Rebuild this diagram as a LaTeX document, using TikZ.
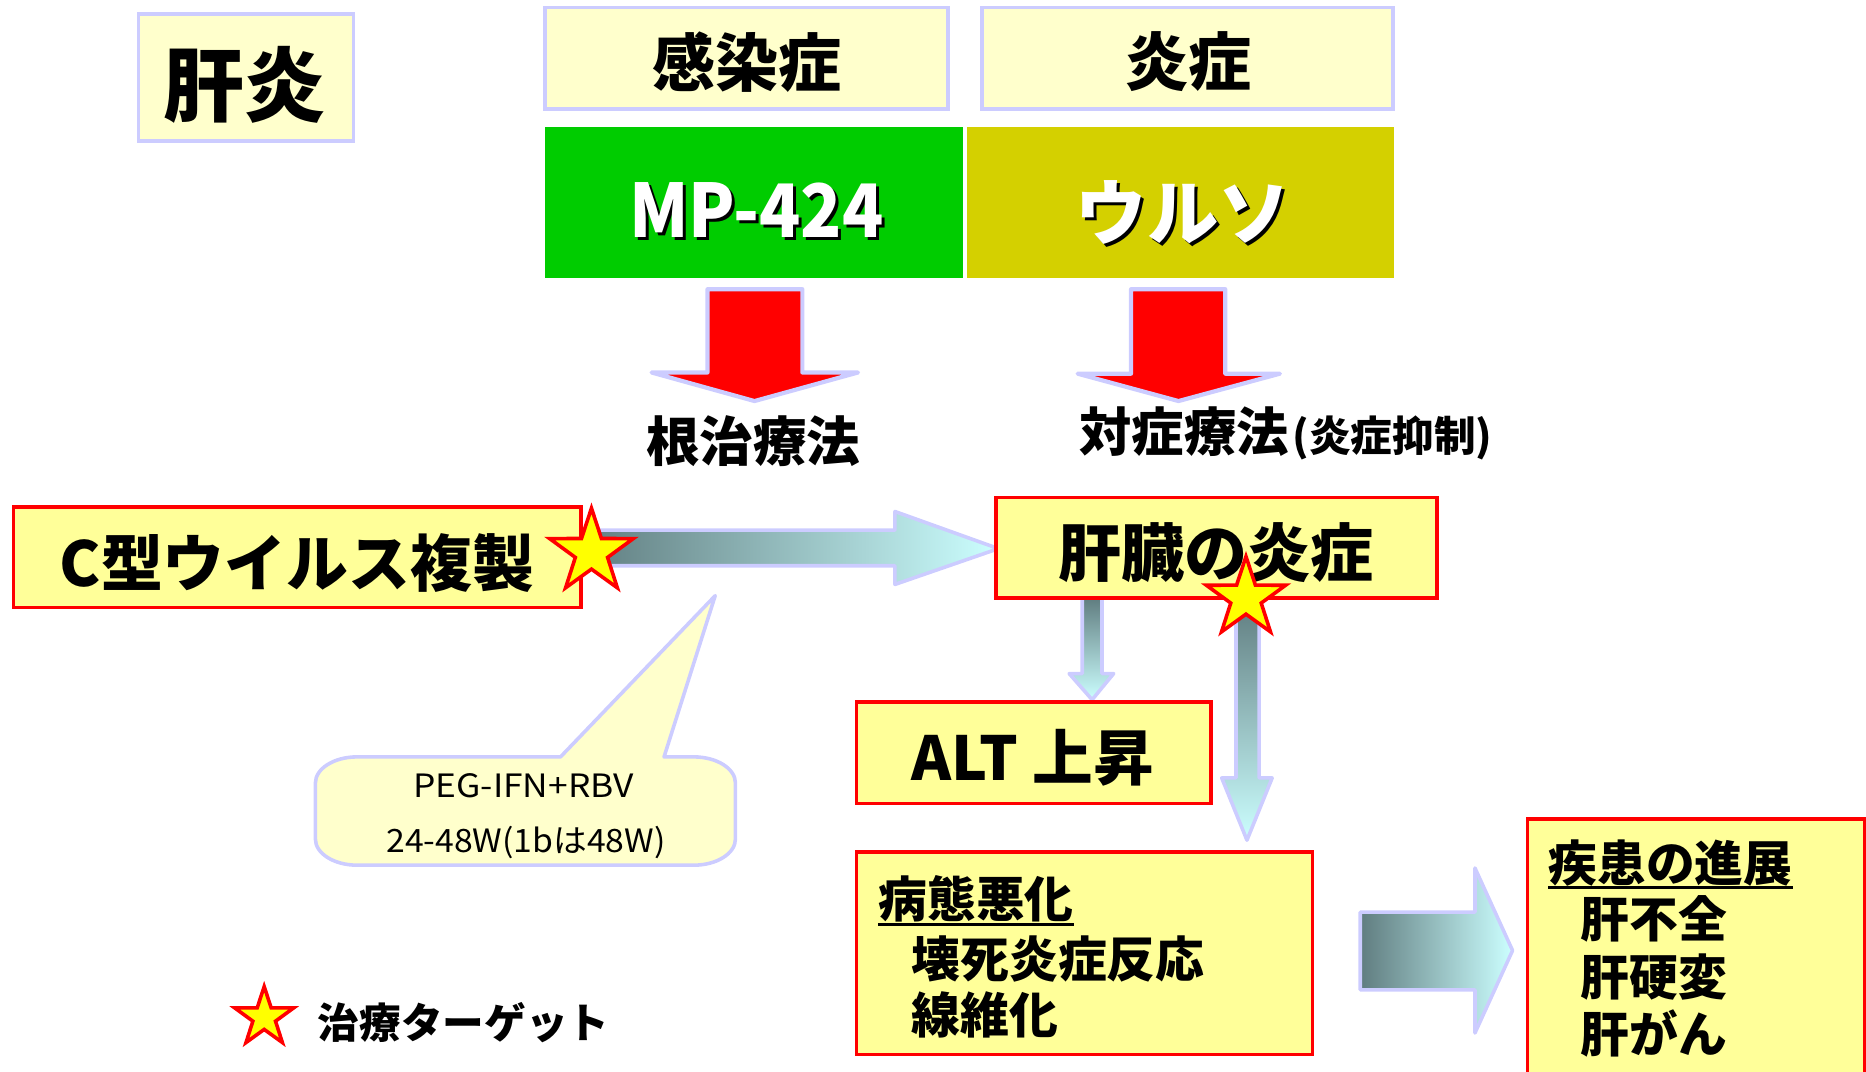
\documentclass[tikz,border=0pt]{standalone}
\usepackage{fontspec}
\setmainfont{Noto Sans CJK JP}
\usetikzlibrary{shapes.geometric,calc}
\definecolor{lav}{RGB}{204,204,255}
\definecolor{paleY}{RGB}{255,255,204}
\definecolor{boxY}{RGB}{255,255,153}
\definecolor{grn}{RGB}{0,204,0}
\definecolor{olv}{RGB}{212,208,0}
\definecolor{dk}{RGB}{96,125,128}
\definecolor{lt}{RGB}{204,255,255}
\definecolor{redc}{RGB}{255,0,0}
\definecolor{staryel}{RGB}{255,255,0}
\newcommand\fsz[1]{\fontsize{#1pt}{#1pt}\selectfont}
\begin{document}
\begin{tikzpicture}[x=1pt,y=-1pt,
 lavbox/.style={draw=lav,fill=paleY,line width=3pt,inner sep=0pt},
 redbox/.style={draw=redc,fill=boxY,line width=3pt,inner sep=0pt},
 txt/.style={inner sep=0pt,text=black},
 mystar/.style={star,star points=5,star point ratio=2.6,fill=staryel,draw=redc,line width=3pt,inner sep=0pt},
 redarrow/.style={fill=redc,draw=lav,line width=3.5pt,line join=round},
 gradH/.style={left color=dk,right color=lt,draw=lav,line width=3pt,line join=round},
 gradV/.style={top color=dk,bottom color=lt,draw=lav,line width=3pt,line join=round},
]
\useasboundingbox (0,0) rectangle (1568,900);
\clip (0,0) rectangle (1568,900);

% top boxes
\node[lavbox,minimum width=180.7pt,minimum height=106.9pt] (kanen) at (206.65,65.25) {};
\node[lavbox,minimum width=338.7pt,minimum height=85.5pt] (kansen) at (627.35,48.95) {};
\node[lavbox,minimum width=345.3pt,minimum height=85.5pt] (ensho) at (997.85,48.95) {};
\node[fill=grn,inner sep=0pt,minimum width=351.6pt,minimum height=127pt] (mp) at (633.8,170.5) {};
\node[fill=olv,inner sep=0pt,minimum width=359.3pt,minimum height=127pt] (urso) at (991.85,170.5) {};

\node[txt,font={\bfseries\fsz{68}},anchor=base] (kanenT) at (205.4,97) {肝炎};
\node[txt,font={\bfseries\fsz{53}},anchor=base] (kansenT) at (627.4,72.7) {感染症};
\node[txt,font={\bfseries\fsz{53}},anchor=base] (enshoT) at (998.9,72) {炎症};
\node[txt,text=black,font={\bfseries\fsz{62}},anchor=base] (mpS) at (638,202) {\scalebox{0.92}[1]{MP-424}};
\node[txt,text=white,font={\bfseries\fsz{62}},anchor=base] (mpT) at (635.5,199.5) {\scalebox{0.92}[1]{MP-424}};
\node[txt,text=black,font={\bfseries\fsz{60}},anchor=base] (ursoS) at (996.5,203.5) {ウルソ};
\node[txt,text=white,font={\bfseries\fsz{60}},anchor=base] (ursoT) at (994,201) {ウルソ};

% red arrows
\draw[redarrow] (594.5,243) -- (674.2,243) -- (674.2,313) -- (721,313) -- (634,337) -- (547.5,313) -- (594.5,313) -- cycle;
\draw[redarrow] (950.4,243) -- (1029.6,243) -- (1029.6,314) -- (1075.5,314) -- (990.3,337) -- (905.5,314) -- (950.4,314) -- cycle;
\node[txt,font={\bfseries\fsz{45}},anchor=base] (konji) at (633,388) {根治療法};
\node[txt,font={\bfseries\fsz{44}},anchor=base west] (taisho) at (907,379.7) {対症療法\fsz{35}\hspace{3pt}(炎症抑制)};

% callout
\draw[draw=lav,fill=paleY,line width=3pt,line join=round] (300,636) -- (471,636) -- (601,500.5) -- (558,636) -- (583,636)
  arc[start angle=270,end angle=360,x radius=35,y radius=22] -- (618,705)
  arc[start angle=0,end angle=90,x radius=35,y radius=22] -- (300,727)
  arc[start angle=90,end angle=180,x radius=35,y radius=22] -- (265,658)
  arc[start angle=180,end angle=270,x radius=35,y radius=22] -- cycle;
\node[txt,font={\fsz{27}},anchor=base] (peg) at (440,670.4) {\scalebox{1.1}[1]{PEG-IFN+RBV}};
\node[txt,font={\fsz{27}},anchor=base] (weeks) at (442,716) {\scalebox{1.05}[1]{24-48W(1bは48W)}};

% gradient arrows
\shadedraw[gradH] (488,445.5) -- (752,445.5) -- (752,429.8) -- (839,461) -- (752,491.1) -- (752,475.4) -- (488,475.4) -- cycle;
\shadedraw[gradV] (909.4,502.4) -- (926,502.4) -- (926,566) -- (935.8,566) -- (917.7,588) -- (898.4,566) -- (909.4,566) -- cycle;
\shadedraw[gradV] (1038.6,505) -- (1058,505) -- (1058,653.7) -- (1069,653.7) -- (1047.8,706) -- (1026.6,653.7) -- (1038.6,653.7) -- cycle;
\shadedraw[gradH] (1143,766.5) -- (1239.4,766.5) -- (1239.4,729.4) -- (1271,798.7) -- (1239.4,868) -- (1239.4,831.8) -- (1143,831.8) -- cycle;

% red boxes
\node[redbox,minimum width=476.5pt,minimum height=84.5pt] (virus) at (249.75,468.25) {};
\node[redbox,minimum width=370.7pt,minimum height=84.4pt] (liver) at (1022.15,460.2) {};
\node[redbox,minimum width=298.2pt,minimum height=85pt] (alt) at (868.7,632.5) {};
\node[redbox,minimum width=383.4pt,minimum height=170pt] (byotai) at (911.3,801) {};
\node[redbox,minimum width=283.2pt,minimum height=271.6pt] (shikkan) at (1425,824.2) {};

\node[txt,font={\bfseries\fsz{52}},anchor=base] (virusT) at (249.6,493) {C型ウイルス複製};
\node[txt,font={\bfseries\fsz{53}},anchor=base] (liverT) at (1022,484.3) {肝臓の炎症};
\node[txt,font={\bfseries\fsz{51}},anchor=base] (altT) at (868,655.5) {ALT 上昇};
\node[txt,font={\bfseries\fsz{41}},anchor=base west] (b1) at (738,770.6) {病態悪化};
\node[txt,font={\bfseries\fsz{41}},anchor=base west] (b2) at (766,821) {壊死炎症反応};
\node[txt,font={\bfseries\fsz{41}},anchor=base west] (b3) at (766,868.3) {線維化};
\draw[line width=2.5pt] ($(b1.base west)+(0,6)$) -- ($(b1.base east)+(0,6)$);
\node[txt,font={\bfseries\fsz{41}},anchor=base west] (s1) at (1301,740.6) {疾患の進展};
\node[txt,font={\bfseries\fsz{41}},anchor=base west] (s2) at (1328,788) {肝不全};
\node[txt,font={\bfseries\fsz{41}},anchor=base west] (s3) at (1328,836.8) {肝硬変};
\node[txt,font={\bfseries\fsz{41}},anchor=base west] (s4) at (1328,884) {肝がん};
\draw[line width=2.5pt] ($(s1.base west)+(0,5)$) -- ($(s1.base east)+(0,5)$);

% stars
\node[mystar,minimum size=74pt] (star1) at (497,464) {};
\node[mystar,minimum size=70pt] (star2) at (1047,502.6) {};
\node[mystar,minimum size=52pt] (star3) at (222,855) {};
\node[txt,font={\bfseries\fsz{35}},anchor=base west] (legend) at (267,872.3) {治療ターゲット};
\end{tikzpicture}
\end{document}
